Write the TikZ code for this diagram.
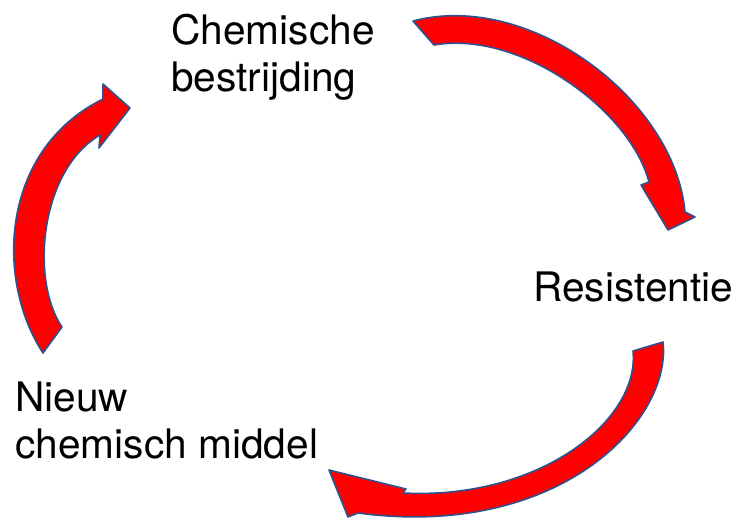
\documentclass[tikz,border=0pt]{standalone}
\usepackage{fontspec}
\setmainfont{TeX Gyre Heros}
\usepackage{xcolor}
\usepackage{tikz}
\definecolor{arrowred}{HTML}{FF0000}
\definecolor{rim}{HTML}{2F528F}
\tikzset{
  curvedarrow/.style={fill=arrowred, draw=rim, line width=1.2pt, line join=round},
  lab/.style={text=black, font=\fontsize{30.5}{35}\selectfont, inner sep=0pt, align=left}
}

\begin{document}
\begin{tikzpicture}[x=0.75pt, y=-0.75pt]
  \useasboundingbox (0,0) rectangle (736,522);

  \coordinate (Ttail) at (413,21);
  \coordinate (Ttip) at (668,230);
  \coordinate (Btail) at (663,342);
  \coordinate (Btip) at (329,470);
  \coordinate (Ltail) at (43,353);
  \coordinate (Ltip) at (130,108);

  \draw[curvedarrow] (Ttail) .. controls (530,-10) and (675,100) .. (685,212)
    -- (695,217) -- (Ttip) -- (641,185) -- (649,182)
    .. controls (630,110) and (520,30) .. (434,45) -- cycle;

  \draw[curvedarrow] (Btail) .. controls (672,420) and (560,540) .. (358,513)
    -- (348,517) -- (Btip) -- (406,489) -- (403,493)
    .. controls (540,500) and (640,420) .. (633,351) -- cycle;

  \draw[curvedarrow] (Ltail) .. controls (-5,280) and (0,150) .. (103,99)
    -- (103,84) -- (Ltip) -- (99,148) -- (100,135)
    .. controls (40,170) and (30,280) .. (62,327) -- cycle;

  \node[lab, anchor=north west] (chem) at (171,14) {Chemische\\bestrijding};
  \node[lab, anchor=base west] (res) at (533,301) {Resistentie};
  \node[lab, anchor=north west] (nieuw) at (15,382) {Nieuw\\chemisch middel};
\end{tikzpicture}
\end{document}
